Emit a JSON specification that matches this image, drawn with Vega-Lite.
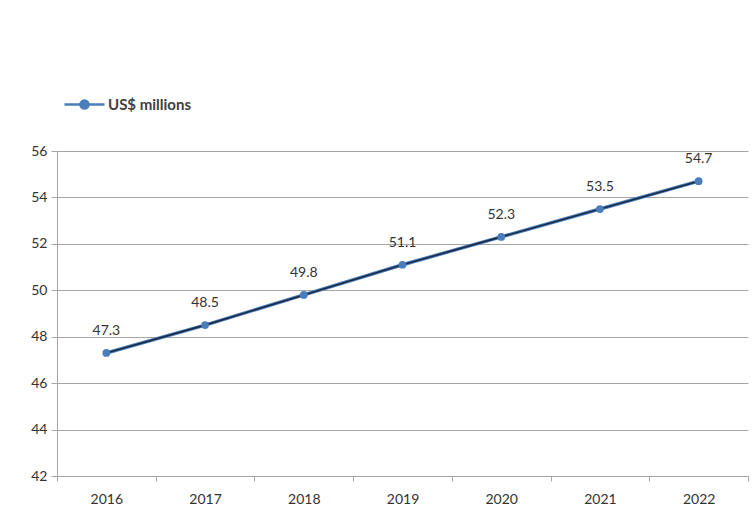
{
  "$schema": "https://vega.github.io/schema/vega-lite/v6.json",
  "width": 691,
  "height": 325,
  "autosize": {"type": "none"},
  "padding": {"left": 57, "top": 151, "right": 7, "bottom": 41},
  "background": "white",
  "config": {
    "view": {"stroke": null},
    "font": "Lato",
    "axis": {"labelFont": "Lato", "labelColor": "#333333", "labelFontSize": 14}
  },
  "data": {
    "values": [
      {"year": "2016", "value": 47.3, "series": "US$ millions"},
      {"year": "2017", "value": 48.5, "series": "US$ millions"},
      {"year": "2018", "value": 49.8, "series": "US$ millions"},
      {"year": "2019", "value": 51.1, "series": "US$ millions"},
      {"year": "2020", "value": 52.3, "series": "US$ millions"},
      {"year": "2021", "value": 53.5, "series": "US$ millions"},
      {"year": "2022", "value": 54.7, "series": "US$ millions"}
    ]
  },
  "encoding": {
    "x": {
      "field": "year", "type": "ordinal", "title": null,
      "scale": {"paddingInner": 0, "paddingOuter": 0},
      "axis": {"labelAngle": 0, "labelPadding": 11, "tickBand": "extent", "tickSize": 5, "domainColor": "#a6a6a6", "tickColor": "#a6a6a6", "grid": false}
    },
    "y": {
      "field": "value", "type": "quantitative", "title": null,
      "scale": {"domain": [42, 56], "nice": false, "zero": false},
      "axis": {"values": [42, 44, 46, 48, 50, 52, 54, 56], "grid": true, "gridColor": "#a6a6a6", "gridWidth": 1, "domainColor": "#a6a6a6", "tickColor": "#a6a6a6", "tickSize": 6, "labelPadding": 4}
    }
  },
  "layer": [
    {
      "mark": {"type": "line", "color": "#4a7ebb", "strokeWidth": 3.5}
    },
    {
      "mark": {"type": "line", "color": "#1c2a44", "strokeWidth": 1.6}
    },
    {
      "mark": {"type": "point", "filled": true, "size": 60, "opacity": 1},
      "encoding": {
        "color": {
          "field": "series", "type": "nominal",
          "scale": {"range": ["#4a7ebb"]},
          "legend": {
            "title": null, "orient": "none", "legendX": 6, "legendY": -68,
            "symbolType": "M-1,0L-0.2,0A0.2,0.2 0 1,1 0.2,0L1,0M0.2,0A0.2,0.2 0 1,1 -0.2,0",
            "symbolSize": 1600, "symbolStrokeWidth": 2.5, "symbolStrokeColor": "#4a7ebb", "symbolFillColor": "#4a7ebb",
            "labelFontSize": 15, "labelFontWeight": "bold", "labelColor": "#404040", "labelFont": "Lato", "labelOffset": 2
          }
        }
      }
    },
    {
      "mark": {"type": "text", "dy": -22, "fontSize": 14, "color": "#333333", "font": "Lato"},
      "encoding": {"text": {"field": "value", "type": "quantitative", "format": ".1f"}}
    }
  ]
}
